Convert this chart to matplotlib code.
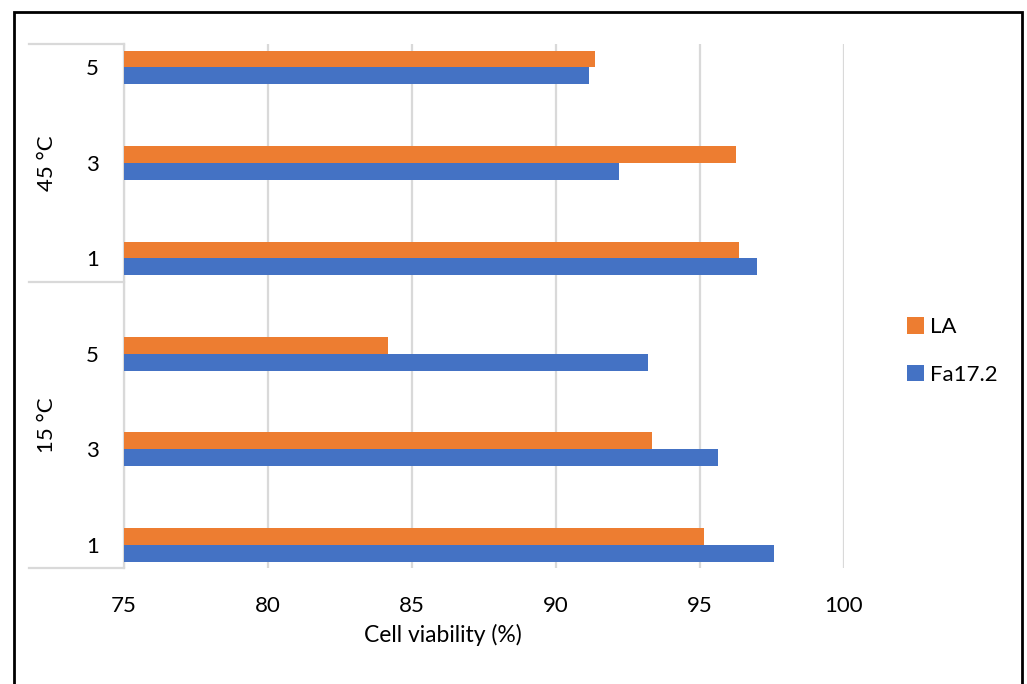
import matplotlib
matplotlib.use("Agg")
import matplotlib.pyplot as plt
from matplotlib.patches import Patch, Rectangle
from matplotlib.lines import Line2D
import numpy as np

# Data (bottom to top, as drawn on the category axis)
groups = ["15 °C", "45 °C"]
time_labels = ["1", "3", "5", "1", "3", "5"]
la_values = [95.15, 93.33, 84.17, 96.38, 96.25, 91.37]
fa_values = [97.58, 95.65, 93.19, 96.98, 92.20, 91.17]
x_ticks = [75, 80, 85, 90, 95, 100]

ORANGE = "#ED7D31"
BLUE = "#4472C4"
GRID = "#D9D9D9"

plt.rcParams["font.family"] = ["Lato", "DejaVu Sans"]
FS = 16

W, H = 1027, 684
fig = plt.figure(figsize=(W / 100, H / 100), dpi=100)

def fx(px):
    return px / W

def fy(py):
    return 1 - py / H

ax_left, ax_right, ax_top, ax_bottom = 123.7, 843.7, 44, 568
ax = fig.add_axes([fx(ax_left), fy(ax_bottom), fx(ax_right - ax_left), (ax_bottom - ax_top) / H])

pos = np.arange(len(time_labels))
bh = 0.176
ax.barh(pos + bh / 2, la_values, height=bh, color=ORANGE, label="LA", zorder=3)
ax.barh(pos - bh / 2, fa_values, height=bh, color=BLUE, label="Fa17.2", zorder=3)

ax.set_xlim(75, 100)
ax.set_ylim(-0.244, 5.246)
ax.set_xticks(x_ticks)
ax.set_yticks(pos)
ax.set_yticklabels(time_labels)
ax.xaxis.grid(True, color=GRID, linewidth=1.6, zorder=0)
ax.set_axisbelow(True)
for side in ["top", "right", "bottom"]:
    ax.spines[side].set_visible(False)
ax.spines["left"].set_color(GRID)
ax.spines["left"].set_linewidth(1.6)
ax.tick_params(axis="x", length=0, pad=20, labelsize=FS)
ax.tick_params(axis="y", length=0, pad=18, labelsize=FS)
ax.set_xlabel("Cell viability (%)", fontsize=16.5)
ax.xaxis.set_label_coords((442.7 - ax_left) / (ax_right - ax_left),
                          (ax_bottom - 635) / (ax_bottom - ax_top))
ax.xaxis.label.set_va("center")

# Multi-level category axis: group separators and group names
sep_x0, sep_x1 = 29, ax_left
for py in (ax_top, 282, ax_bottom):
    fig.add_artist(Line2D([fx(sep_x0), fx(sep_x1)], [fy(py), fy(py)],
                          color=GRID, linewidth=1.6, transform=fig.transFigure))
fig.text(fx(47), fy((ax_top + 282) / 2), groups[1], rotation=90,
         ha="center", va="center", fontsize=FS)
fig.text(fx(47), fy((282 + ax_bottom) / 2), groups[0], rotation=90,
         ha="center", va="center", fontsize=FS)

# Legend
handles = [Patch(facecolor=ORANGE, label="LA"), Patch(facecolor=BLUE, label="Fa17.2")]
fig.legend(handles=handles, loc="center left", bbox_to_anchor=(fx(898), fy(351)),
           frameon=False, fontsize=FS, handlelength=0.75, handleheight=0.75,
           handletextpad=0.3, labelspacing=1.25, borderaxespad=0)

# Outer frame
fig.add_artist(Rectangle((fx(14), fy(700)), fx(1022 - 14), (700 - 12) / H,
                         fill=False, edgecolor="black", linewidth=2.0,
                         transform=fig.transFigure, clip_on=False))

fig.savefig("out.png", dpi=100, facecolor="white")
